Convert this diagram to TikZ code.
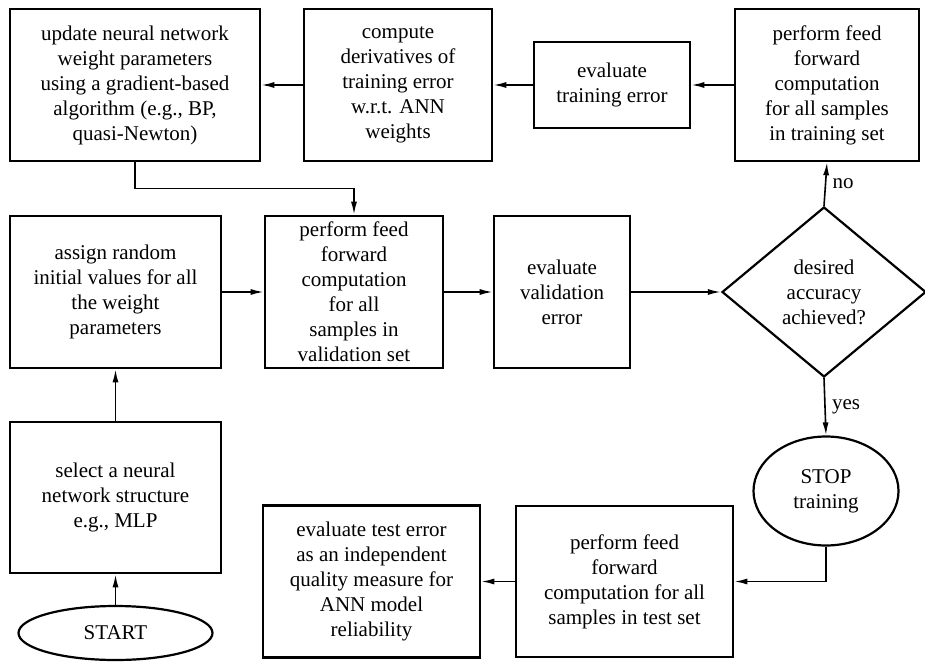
\documentclass[tikz,border=0pt]{standalone}
\usepackage{fontspec}
\setmainfont{Liberation Serif}
\usetikzlibrary{shapes.geometric,arrows.meta}
\begin{document}
\begin{tikzpicture}[x=1pt,y=-1pt,
        every node/.style={font=\fontsize{21}{25}\selectfont},
        box/.style={draw,rectangle,line width=2.6pt,align=center,inner sep=0pt},
        term/.style={draw,ellipse,line width=2.2pt,align=center,inner sep=0pt},
        decide/.style={draw,diamond,line width=2.2pt,align=center,inner sep=0pt},
        line/.style={line width=1.6pt,-{Latex[length=13pt,width=6pt]}}]
    \useasboundingbox (0,0) rectangle (925,663);
    % top row
    \node[box,minimum width=250pt,minimum height=152pt] (upd) at (135,85)
        {update neural network\\weight parameters\\using a gradient-based\\algorithm (e.g., BP,\\quasi-Newton)};
    \node[box,minimum width=188pt,minimum height=152pt] (comp) at (398,85)
        {compute\\derivatives of\\training error\\w.r.t. ANN\\weights};
    \node[box,minimum width=156pt,minimum height=86pt] (evtr) at (612,85)
        {evaluate\\training error};
    \node[box,minimum width=184pt,minimum height=152pt] (fftr) at (827,85)
        {perform feed\\forward\\computation\\for all samples\\in training set};
    % middle row
    \node[box,minimum width=211pt,minimum height=152pt] (asg) at (115.5,292)
        {assign random\\initial values for all\\the weight\\parameters};
    \node[box,minimum width=178pt,minimum height=152pt] (ffval) at (354,292)
        {perform feed\\forward\\computation\\for all\\samples in\\validation set};
    \node[box,minimum width=136pt,minimum height=152pt] (evval) at (562,292)
        {evaluate\\validation\\error};
    \node[decide,minimum width=204pt,minimum height=170pt] (dec) at (824,292)
        {desired\\accuracy\\achieved?};
    % bottom row
    \node[box,minimum width=211pt,minimum height=151pt] (sel) at (115.5,497.5)
        {select a neural\\network structure\\e.g., MLP};
    \node[term,minimum width=194pt,minimum height=54pt] (start) at (115.5,633) {START};
    \node[term,minimum width=145pt,minimum height=109pt] (stop) at (826,491) {STOP\\training};
    \node[box,minimum width=217pt,minimum height=151pt] (ffte) at (624.5,581.5)
        {perform feed\\forward\\computation for all\\samples in test set};
    \node[box,minimum width=217pt,minimum height=152pt] (evte) at (371.5,581.5)
        {evaluate test error\\as an independent\\quality measure for\\ANN model\\reliability};
    % connectors
    \draw[line] (start) -- (sel);
    \draw[line] (sel) -- (asg);
    \draw[line] (asg) -- (ffval);
    \draw[line] (ffval) -- (evval);
    \draw[line] (evval) -- (dec);
    \draw[line] (dec.north) -- node[right,xshift=3pt] {no} (fftr.south);
    \draw[line] (dec.south) -- node[right,xshift=3pt] {yes} (stop.north);
    \draw[line] (fftr) -- (evtr);
    \draw[line] (evtr) -- (comp);
    \draw[line] (comp) -- (upd);
    \draw[line] (upd.south) -- ++(0,26) -| (ffval.north);
    \draw[line] (stop.south) |- (ffte.east);
    \draw[line] (ffte) -- (evte);
\end{tikzpicture}
\end{document}
